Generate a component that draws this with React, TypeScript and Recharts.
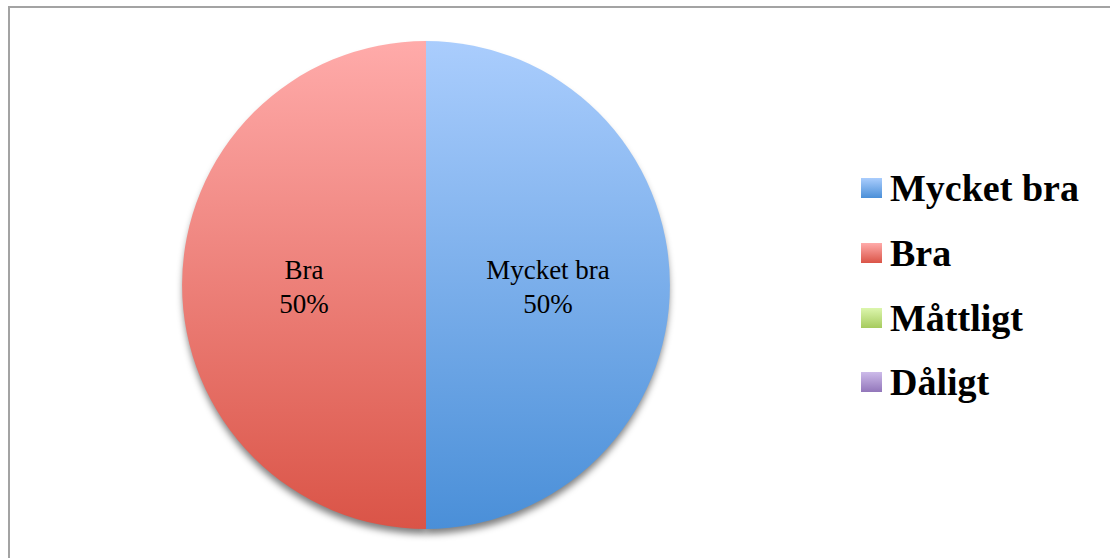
import React from 'react'
import { Cell, Legend, Pie, PieChart } from 'recharts'

const categories = ['Mycket bra', 'Bra', 'Måttligt', 'Dåligt']
const values = [50, 50, 0, 0]
const gradientStops = [
  ['#aacdfd', '#4a8fd8'],
  ['#ffabaa', '#da5447'],
  ['#dcf6ad', '#a6cb5e'],
  ['#cdbbea', '#9276ba'],
]

const data = categories.map((name, i) => ({ name, value: values[i] }))

const serif = '"Liberation Serif", "Times New Roman", serif'

const renderLabel = (props: any) => {
  const { cx, cy, midAngle, outerRadius, percent, name, value } = props
  if (!value) return null
  const rad = (Math.PI / 180) * midAngle
  const r = outerRadius * 0.5
  const x = cx + r * Math.cos(rad)
  const y = cy - r * Math.sin(rad)
  return (
    <text
      x={x}
      y={y}
      textAnchor="middle"
      fill="#000"
      fontFamily={serif}
      fontSize={27}
    >
      <tspan x={x} dy={-6}>
        {name}
      </tspan>
      <tspan x={x} dy={34}>
        {`${Math.round(percent * 100)}%`}
      </tspan>
    </text>
  )
}

const LegendList = () => (
  <div style={{ fontFamily: serif, fontWeight: 'bold', fontSize: 38 }}>
    {categories.map((name, i) => (
      <div
        key={name}
        style={{ display: 'flex', alignItems: 'center', height: 64.7 }}
      >
        <span
          style={{
            display: 'inline-block',
            width: 21,
            height: 20,
            marginRight: 8,
            background: `linear-gradient(${gradientStops[i][0]}, ${gradientStops[i][1]})`,
          }}
        />
        <span style={{ lineHeight: 1 }}>{name}</span>
      </div>
    ))}
  </div>
)

export default function App() {
  return (
    <div
      style={{
        position: 'absolute',
        left: 0,
        top: 0,
        width: 1110,
        height: 558,
        overflow: 'hidden',
        background: '#fff',
      }}
    >
      <svg width={0} height={0} style={{ position: 'absolute' }}>
        <defs>
          {gradientStops.map(([a, b], i) => (
            <linearGradient key={i} id={`grad${i}`} x1="0" y1="0" x2="0" y2="1">
              <stop offset="0%" stopColor={a} />
              <stop offset="100%" stopColor={b} />
            </linearGradient>
          ))}
          <filter id="blur" x="-10%" y="-10%" width="120%" height="120%">
            <feGaussianBlur stdDeviation="3.5" />
          </filter>
        </defs>
      </svg>
      <div
        style={{
          position: 'absolute',
          left: 8,
          top: 6,
          width: 1200,
          height: 700,
          border: '2px solid #a3a3a3',
        }}
      />
      <div style={{ position: 'absolute', left: 0, top: 0 }}>
        <PieChart
          width={1110}
          height={558}
          margin={{ top: 0, right: 0, bottom: 0, left: 0 }}
        >
          {/* soft shadow under the pie */}
          <Pie
            data={data}
            dataKey="value"
            cx={426}
            cy={291}
            outerRadius={243}
            startAngle={90}
            endAngle={-270}
            stroke="none"
            fill="#000"
            fillOpacity={0.5}
            style={{ filter: 'url(#blur)' }}
            legendType="none"
            isAnimationActive={false}
          />
          <Pie
            data={data}
            dataKey="value"
            cx={426}
            cy={285}
            outerRadius={244}
            startAngle={90}
            endAngle={-270}
            stroke="none"
            label={renderLabel}
            labelLine={false}
            isAnimationActive={false}
          >
            {data.map((d, i) => (
              <Cell key={d.name} fill={`url(#grad${i})`} />
            ))}
          </Pie>
          <Legend
            layout="vertical"
            verticalAlign="top"
            align="right"
            wrapperStyle={{ left: 861, top: 156, width: 240 }}
            content={() => <LegendList />}
          />
        </PieChart>
      </div>
    </div>
  )
}
